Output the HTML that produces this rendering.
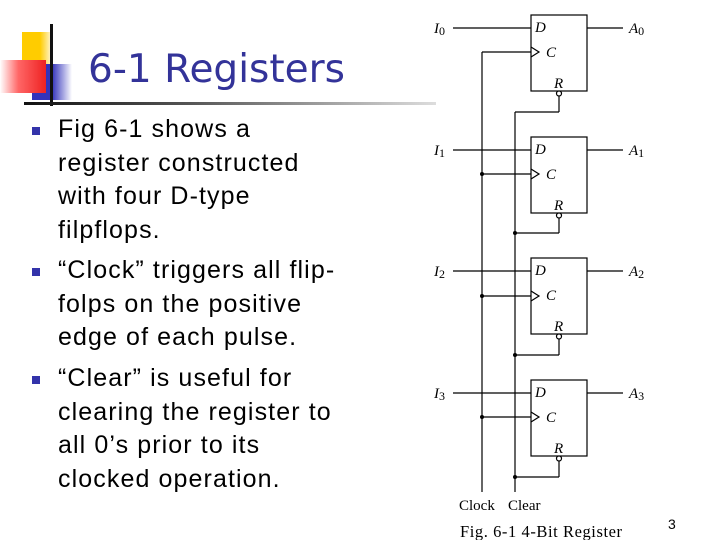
<!DOCTYPE html>
<html><head><meta charset="utf-8"><style>
html,body{margin:0;padding:0;background:#fff;}
body{width:720px;height:540px;overflow:hidden;position:relative;}
.t{position:absolute;font-family:"Liberation Sans",sans-serif;color:#000;font-size:25px;line-height:33.7px;left:58px;white-space:nowrap;letter-spacing:1.1px;}
.b{position:absolute;left:32px;width:8px;height:8px;background:#3333aa;}
</style></head><body>
<div style="position:absolute;left:22px;top:32px;width:30px;height:32px;background:linear-gradient(90deg,#ffcc00 60%,#fff8e0);"></div>
<div style="position:absolute;left:32px;top:64px;width:40px;height:36px;background:linear-gradient(90deg,#3333bb 50%,#fff);"></div>
<div style="position:absolute;left:0px;top:60px;width:46px;height:33px;background:linear-gradient(90deg,#fff,#ff6666 40%,#ee2222);"></div>
<div style="position:absolute;left:50px;top:24px;width:3px;height:82px;background:#111;"></div>
<div style="position:absolute;left:24px;top:102px;width:412px;height:3px;background:linear-gradient(90deg,#111,#555 40%,#ddd);"></div>
<div style="position:absolute;left:88px;top:47px;font-family:'DejaVu Sans','Liberation Sans',sans-serif;font-size:39px;color:#333399;white-space:nowrap;">6-1 Registers</div>

<div class="b" style="top:127px"></div>
<div class="t" style="top:113px">Fig 6-1 shows a<br>register constructed<br>with four D-type<br>filpflops.</div>
<div class="b" style="top:268px"></div>
<div class="t" style="top:254px">“Clock” triggers all flip-<br>folps on the positive<br>edge of each pulse.</div>
<div class="b" style="top:376px"></div>
<div class="t" style="top:362px">“Clear” is useful for<br>clearing the register to<br>all 0’s prior to its<br>clocked operation.</div>

<svg style="position:absolute;left:0;top:0" width="720" height="540" font-family="Liberation Serif,serif">
<g stroke="#000" stroke-width="1.2" fill="none">
<line x1="482" y1="52" x2="482" y2="492"/>
<line x1="482" y1="52" x2="531" y2="52"/>
<line x1="515" y1="112" x2="515" y2="492"/>
<line x1="515" y1="112" x2="559" y2="112"/>
<line x1="559" y1="96" x2="559" y2="112"/>
</g>
<g font-style="italic" font-size="15">
<g stroke="#000" stroke-width="1.2" fill="none">
<rect x="531" y="15" width="56" height="76"/>
<rect x="531" y="137" width="56" height="76"/>
<rect x="531" y="258" width="56" height="76"/>
<rect x="531" y="380" width="56" height="76"/>
<line x1="453" y1="28" x2="531" y2="28"/><line x1="587" y1="28" x2="623" y2="28"/>
<line x1="453" y1="150" x2="531" y2="150"/><line x1="587" y1="150" x2="623" y2="150"/>
<line x1="453" y1="271" x2="531" y2="271"/><line x1="587" y1="271" x2="623" y2="271"/>
<line x1="453" y1="393" x2="531" y2="393"/><line x1="587" y1="393" x2="623" y2="393"/>
<line x1="482" y1="174" x2="531" y2="174"/>
<line x1="482" y1="296" x2="531" y2="296"/>
<line x1="482" y1="417" x2="531" y2="417"/>
<line x1="559" y1="217" x2="559" y2="233"/><line x1="515" y1="233" x2="559" y2="233"/>
<line x1="559" y1="338" x2="559" y2="355"/><line x1="515" y1="355" x2="559" y2="355"/>
<line x1="559" y1="460" x2="559" y2="477"/><line x1="515" y1="477" x2="559" y2="477"/>
<polyline points="531,47 539,52 531,57"/><polyline points="531,169 539,174 531,179"/>
<polyline points="531,291 539,296 531,301"/><polyline points="531,412 539,417 531,422"/>
<circle cx="559" cy="93.5" r="2.5" fill="#fff"/><circle cx="559" cy="215.5" r="2.5" fill="#fff"/>
<circle cx="559" cy="336.5" r="2.5" fill="#fff"/><circle cx="559" cy="458.5" r="2.5" fill="#fff"/>
</g>
<g fill="#000">
<circle cx="482" cy="174" r="2"/><circle cx="482" cy="296" r="2"/><circle cx="482" cy="417" r="2"/>
<circle cx="515" cy="233" r="2"/><circle cx="515" cy="355" r="2"/><circle cx="515" cy="477" r="2"/>
</g>
<g>
<text x="535" y="32">D</text><text x="546" y="57">C</text><text x="554" y="88">R</text>
<text x="535" y="154">D</text><text x="546" y="179">C</text><text x="554" y="210">R</text>
<text x="535" y="275">D</text><text x="546" y="300">C</text><text x="554" y="331">R</text>
<text x="535" y="397">D</text><text x="546" y="422">C</text><text x="554" y="453">R</text>
<text x="434" y="33">I<tspan font-style="normal" font-size="12" dy="2">0</tspan></text>
<text x="434" y="155">I<tspan font-style="normal" font-size="12" dy="2">1</tspan></text>
<text x="434" y="276">I<tspan font-style="normal" font-size="12" dy="2">2</tspan></text>
<text x="434" y="398">I<tspan font-style="normal" font-size="12" dy="2">3</tspan></text>
<text x="629" y="33">A<tspan font-style="normal" font-size="12" dy="2">0</tspan></text>
<text x="629" y="155">A<tspan font-style="normal" font-size="12" dy="2">1</tspan></text>
<text x="629" y="276">A<tspan font-style="normal" font-size="12" dy="2">2</tspan></text>
<text x="629" y="398">A<tspan font-style="normal" font-size="12" dy="2">3</tspan></text>
</g>
</g>
<text x="459" y="510" font-size="15">Clock</text>
<text x="508" y="510" font-size="15">Clear</text>
<text x="460" y="537" font-size="16.5" textLength="162">Fig. 6-1  4-Bit Register</text>
<text x="668" y="529" font-size="14" font-family="Liberation Sans,sans-serif">3</text>
</svg>
</body></html>
